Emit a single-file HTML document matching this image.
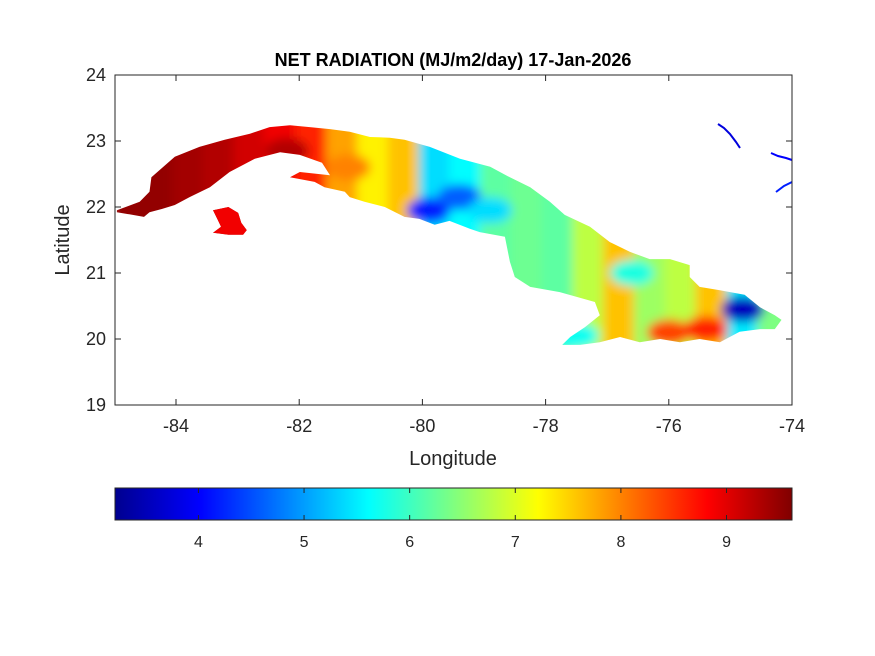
<!DOCTYPE html>
<html><head><meta charset="utf-8"><style>
body{margin:0;background:#fff}
svg{display:block;font-family:"Liberation Sans",Arial,sans-serif}
</style></head><body>
<svg id="chart" width="875" height="656" viewBox="0 0 875 656">
<defs>
<linearGradient id="jet" x1="0" x2="1" y1="0" y2="0">
<stop offset="0" stop-color="#00008f"/><stop offset="0.125" stop-color="#0000ff"/>
<stop offset="0.375" stop-color="#00ffff"/><stop offset="0.625" stop-color="#ffff00"/>
<stop offset="0.875" stop-color="#ff0000"/><stop offset="1" stop-color="#800000"/>
</linearGradient>
<filter id="blur" x="-20%" y="-20%" width="140%" height="140%"><feGaussianBlur stdDeviation="5"/></filter>
<clipPath id="landclip"><path id="landpath"/></clipPath>
</defs>
<rect x="0" y="0" width="875" height="656" fill="#fff"/>
<text x="453" y="66" text-anchor="middle" font-size="18" font-weight="bold" fill="#000">NET RADIATION (MJ/m2/day) 17-Jan-2026</text>
<g id="mapg" clip-path="url(#landclip)"></g>
<g id="extras"></g>
<rect x="115" y="75" width="677" height="330" fill="none" stroke="#262626" stroke-width="1"/>
<g id="axes"></g>
<text x="453" y="465" text-anchor="middle" font-size="20" fill="#262626">Longitude</text>
<text x="0" y="0" transform="translate(69,240) rotate(-90)" text-anchor="middle" font-size="20" fill="#262626">Latitude</text>
<rect x="115" y="488" width="677" height="32" fill="url(#jet)" stroke="#262626" stroke-width="1"/>
<g id="cbticks"></g>
</svg>
<script>
const lonTicks=[-84,-82,-80,-78,-76,-74];
const latTicks=[19,20,21,22,23,24];
const cbTicks=[4,5,6,7,8,9];
const cbMin=3.21, cbMax=9.62;
const binStart=-85, binStep=0.5;
const stripValues=[9.5,9.5,9.4,9.3,9.1,8.9,8.6,7.8,7.3,7.6,5.4,5.6,6.2,6.3,6.2,6.8,7.6,6.6,6.8,7.6,5.5,6.4];
const blobLon=[-79.9,-79.4,-78.9,-76.0,-75.4,-74.8,-76.6,-77.5,-82.2,-81.2];
const blobLat=[21.95,22.15,21.95,20.1,20.15,20.45,21.0,20.05,22.85,22.6];
const blobVal=[4.2,4.6,5.4,8.4,8.6,3.6,5.8,5.7,9.3,8.0];
const outline=[[-84.96,21.95],[-84.59,22.08],[-84.43,22.23],[-84.40,22.45],[-84.02,22.76],[-83.62,22.91],[-83.21,23.02],[-82.80,23.11],[-82.48,23.21],[-82.15,23.24],[-81.83,23.21],[-81.50,23.18],[-81.18,23.14],[-80.85,23.06],[-80.53,23.05],[-80.29,23.02],[-79.88,22.91],[-79.39,22.73],[-78.90,22.61],[-78.58,22.45],[-78.25,22.30],[-77.93,22.08],[-77.69,21.88],[-77.28,21.70],[-76.96,21.47],[-76.63,21.32],[-76.31,21.21],[-75.98,21.21],[-75.66,21.12],[-75.66,20.94],[-75.50,20.79],[-75.17,20.74],[-74.77,20.67],[-74.52,20.48],[-74.28,20.36],[-74.17,20.29],[-74.28,20.15],[-74.52,20.15],[-74.85,20.11],[-75.17,19.95],[-75.50,20.00],[-75.82,19.95],[-76.14,20.00],[-76.47,19.95],[-76.79,20.03],[-77.12,19.95],[-77.44,19.91],[-77.73,19.91],[-77.60,20.03],[-77.36,20.18],[-77.12,20.36],[-77.20,20.56],[-77.77,20.71],[-78.25,20.79],[-78.50,20.94],[-78.58,21.17],[-78.66,21.55],[-79.07,21.62],[-79.23,21.67],[-79.56,21.79],[-79.80,21.73],[-80.05,21.82],[-80.29,21.85],[-80.61,22.00],[-80.94,22.08],[-81.18,22.15],[-81.26,22.23],[-81.59,22.30],[-81.75,22.38],[-82.15,22.45],[-81.99,22.53],[-81.50,22.48],[-81.63,22.67],[-81.99,22.79],[-82.31,22.83],[-82.72,22.73],[-83.13,22.53],[-83.45,22.30],[-83.78,22.15],[-84.02,22.03],[-84.23,21.97],[-84.43,21.92],[-84.52,21.85],[-84.76,21.89],[-84.96,21.92]];
const isle=[[-83.40,21.95],[-83.15,22.00],[-82.99,21.91],[-82.94,21.76],[-82.85,21.65],[-82.91,21.58],[-83.15,21.58],[-83.40,21.61],[-83.27,21.70],[-83.32,21.80]];
const isleVal=8.9;

const X=lon=>114.4+(lon+85)*61.6;
const Y=lat=>75+(24-lat)*66;
const C=v=>115+(v-cbMin)/(cbMax-cbMin)*677;
function jet(v){
  let t=(v-cbMin)/(cbMax-cbMin);t=Math.max(0,Math.min(1,t));
  const seg=(a)=>Math.max(0,Math.min(1,1.5-Math.abs(4*t-a)));
  const r=seg(3),g=seg(2),b=seg(1);
  return `rgb(${Math.round(r*255)},${Math.round(g*255)},${Math.round(b*255)})`;
}
const NS="http://www.w3.org/2000/svg";
const mk=(t,a,p)=>{const e=document.createElementNS(NS,t);for(const k in a)e.setAttribute(k,a[k]);p.appendChild(e);return e;};
const toD=pts=>"M"+pts.map(p=>X(p[0]).toFixed(1)+","+Y(p[1]).toFixed(1)).join("L")+"Z";
document.getElementById("landpath").setAttribute("d",toD(outline)+toD(isle));

const mapg=document.getElementById("mapg");
const field=mk("g",{filter:"url(#blur)"},mapg);


stripValues.forEach((v,i)=>{
  const l=binStart+i*binStep;
  const r=mk("rect",{x:X(l)-4,y:Y(24),width:X(l+binStep)-X(l)+8,height:Y(19)-Y(24),fill:jet(v)},field);
  
  
});
blobVal.forEach((v,i)=>{
  const e=mk("ellipse",{cx:X(blobLon[i]),cy:Y(blobLat[i]),rx:22,ry:13,fill:jet(v)},field);
  
  
});
const isleFill=mk("path",{d:toD(isle),fill:jet(isleVal)},mapg);



const ex=document.getElementById("extras");
[["M718,124 L724,128 L730,134 L736,142 L740,148",jet(3.8)],["M771,153 L778,156 L786,158 L792,160",jet(4.0)],["M792,182 L784,186 L776,192",jet(4.2)]].forEach((s,i)=>{
  const p=mk("path",{d:s[0],stroke:s[1],"stroke-width":2,fill:"none"},ex);
  
  
});

const ax=document.getElementById("axes");
lonTicks.forEach(v=>{
  const x=X(v);
  mk("line",{x1:x,x2:x,y1:405,y2:399,stroke:"#262626"},ax);
  mk("line",{x1:x,x2:x,y1:75,y2:81,stroke:"#262626"},ax);
  const t=mk("text",{x:x,y:432,"text-anchor":"middle","font-size":18,fill:"#262626"},ax);
  t.textContent=v;
  
  
});
latTicks.forEach(v=>{
  const y=Y(v);
  mk("line",{x1:115,x2:121,y1:y,y2:y,stroke:"#262626"},ax);
  mk("line",{x1:792,x2:786,y1:y,y2:y,stroke:"#262626"},ax);
  const t=mk("text",{x:106,y:y+6,"text-anchor":"end","font-size":18,fill:"#262626"},ax);
  t.textContent=v;
  
  
});
const cb=document.getElementById("cbticks");
cbTicks.forEach(v=>{
  const x=C(v);
  mk("line",{x1:x,x2:x,y1:520,y2:515,stroke:"#262626"},cb);
  mk("line",{x1:x,x2:x,y1:488,y2:493,stroke:"#262626"},cb);
  const t=mk("text",{x:x,y:547,"text-anchor":"middle","font-size":16,fill:"#262626"},cb);
  t.textContent=v;
  
  
});
</script>
</body></html>
